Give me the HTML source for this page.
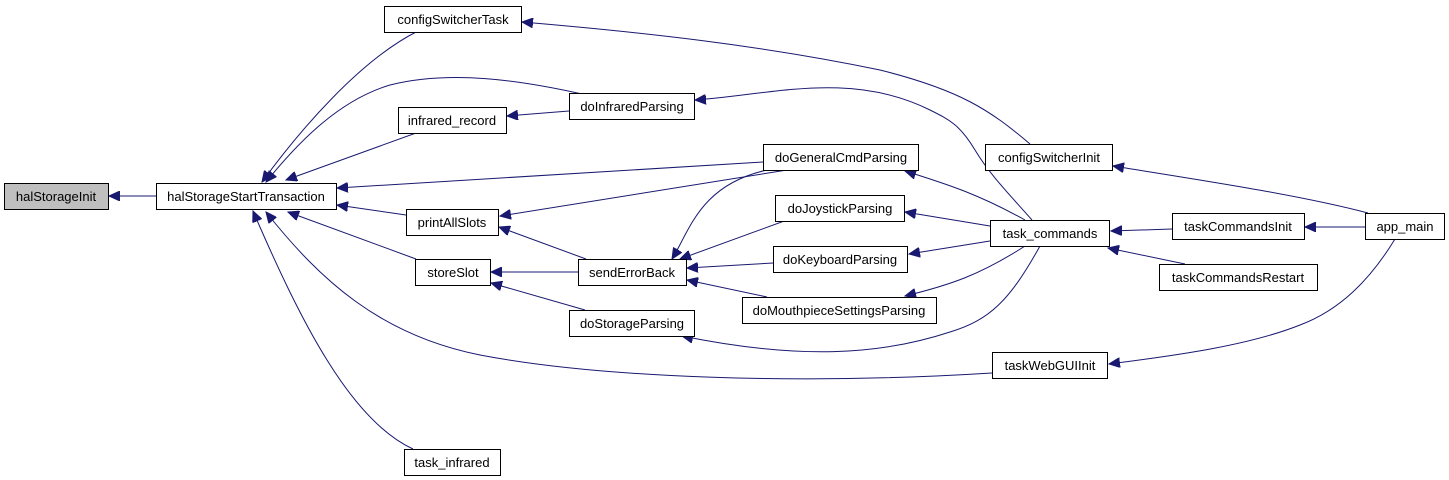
<!DOCTYPE html>
<html><head><meta charset="utf-8"><style>
html,body{margin:0;padding:0;background:#fff;width:1449px;height:480px;overflow:hidden}
svg{display:block}
text{font-family:"Liberation Sans",Arial,sans-serif;font-size:13px;fill:#000}
</style></head><body>
<svg width="1449" height="480" viewBox="0 0 1449 480" xmlns="http://www.w3.org/2000/svg">
<defs>
<marker id="a" markerWidth="12" markerHeight="10" refX="11" refY="5" orient="auto" markerUnits="userSpaceOnUse">
<path d="M0,0 L11,5 L0,10 Z" fill="#191970" stroke="#191970"/>
</marker>
</defs>
<g fill="none" stroke="#191970" stroke-width="1" marker-end="url(#a)">
<path d="M156,196 L109,196"/>
<path d="M418,31 C360,60 300,130 262,182"/>
<path d="M582,94 C520,80 450,70 390,85 C340,100 300,140 266,182"/>
<path d="M416,133 L286,180"/>
<path d="M763,162 L337,188"/>
<path d="M406,215 L337,205"/>
<path d="M416,259 L288,212"/>
<path d="M992,373 C800,385 600,378 480,355 C380,335 320,280 266,212"/>
<path d="M413,449 C350,420 300,320 253,211"/>
<path d="M569,111 L507,116"/>
<path d="M586,259 L499,227"/>
<path d="M787,170 L500,216"/>
<path d="M578,272 L491,272"/>
<path d="M585,310 L491,283"/>
<path d="M767,170 C700,185 690,230 672,259"/>
<path d="M787,220 L680,259"/>
<path d="M773,263 L687,268"/>
<path d="M767,297 L687,280"/>
<path d="M1030,144 C990,110 960,90 880,70 C760,45 640,32 522,22"/>
<path d="M1032,220 C1010,195 990,175 975,150 C960,125 950,120 930,110 C850,70 770,95 695,100"/>
<path d="M1025,220 C980,195 950,185 905,171"/>
<path d="M990,226 L905,212"/>
<path d="M990,241 L909,254"/>
<path d="M1025,246 C980,275 950,285 905,296"/>
<path d="M1040,246 C1010,300 990,320 950,332 C880,355 800,360 682,336"/>
<path d="M1172,229 L1111,231"/>
<path d="M1185,264 L1108,248"/>
<path d="M1365,227 L1305,227"/>
<path d="M1368,213 C1300,195 1200,180 1113,166"/>
<path d="M1395,239 C1370,280 1340,310 1300,325 C1250,345 1180,355 1109,364"/>
</g>
<g stroke="#000" stroke-width="1">
<rect x="4.5" y="183.5" width="104" height="26" fill="#bfbfbf"/>
<rect x="156.5" y="183.5" width="180" height="26" fill="#fff"/>
<rect x="384.5" y="6.5" width="137" height="26" fill="#fff"/>
<rect x="569.5" y="93.5" width="125" height="26" fill="#fff"/>
<rect x="398.5" y="107.5" width="108" height="26" fill="#fff"/>
<rect x="406.5" y="209.5" width="92" height="26" fill="#fff"/>
<rect x="415.5" y="259.5" width="75" height="26" fill="#fff"/>
<rect x="578.5" y="259.5" width="108" height="26" fill="#fff"/>
<rect x="569.5" y="310.5" width="125" height="26" fill="#fff"/>
<rect x="404.5" y="449.5" width="96" height="26" fill="#fff"/>
<rect x="763.5" y="144.5" width="155" height="26" fill="#fff"/>
<rect x="775.5" y="195.5" width="129" height="26" fill="#fff"/>
<rect x="773.5" y="246.5" width="134" height="26" fill="#fff"/>
<rect x="742.5" y="297.5" width="194" height="26" fill="#fff"/>
<rect x="985.5" y="144.5" width="127" height="26" fill="#fff"/>
<rect x="990.5" y="220.5" width="119" height="26" fill="#fff"/>
<rect x="992.5" y="352.5" width="115" height="26" fill="#fff"/>
<rect x="1172.5" y="213.5" width="132" height="26" fill="#fff"/>
<rect x="1159.5" y="264.5" width="158" height="26" fill="#fff"/>
<rect x="1365.5" y="213.5" width="79" height="26" fill="#fff"/>
</g>
<g text-anchor="middle">
<text x="56" y="201">halStorageInit</text>
<text x="246" y="201">halStorageStartTransaction</text>
<text x="453" y="24">configSwitcherTask</text>
<text x="632" y="111">doInfraredParsing</text>
<text x="452" y="125">infrared_record</text>
<text x="452" y="227">printAllSlots</text>
<text x="453" y="277">storeSlot</text>
<text x="632" y="277">sendErrorBack</text>
<text x="632" y="328">doStorageParsing</text>
<text x="452" y="467">task_infrared</text>
<text x="841" y="162">doGeneralCmdParsing</text>
<text x="840" y="213">doJoystickParsing</text>
<text x="840" y="264">doKeyboardParsing</text>
<text x="839" y="315">doMouthpieceSettingsParsing</text>
<text x="1049" y="162">configSwitcherInit</text>
<text x="1050" y="238">task_commands</text>
<text x="1050" y="370">taskWebGUIInit</text>
<text x="1238" y="231">taskCommandsInit</text>
<text x="1238" y="282">taskCommandsRestart</text>
<text x="1405" y="231">app_main</text>
</g>
</svg>
</body></html>
